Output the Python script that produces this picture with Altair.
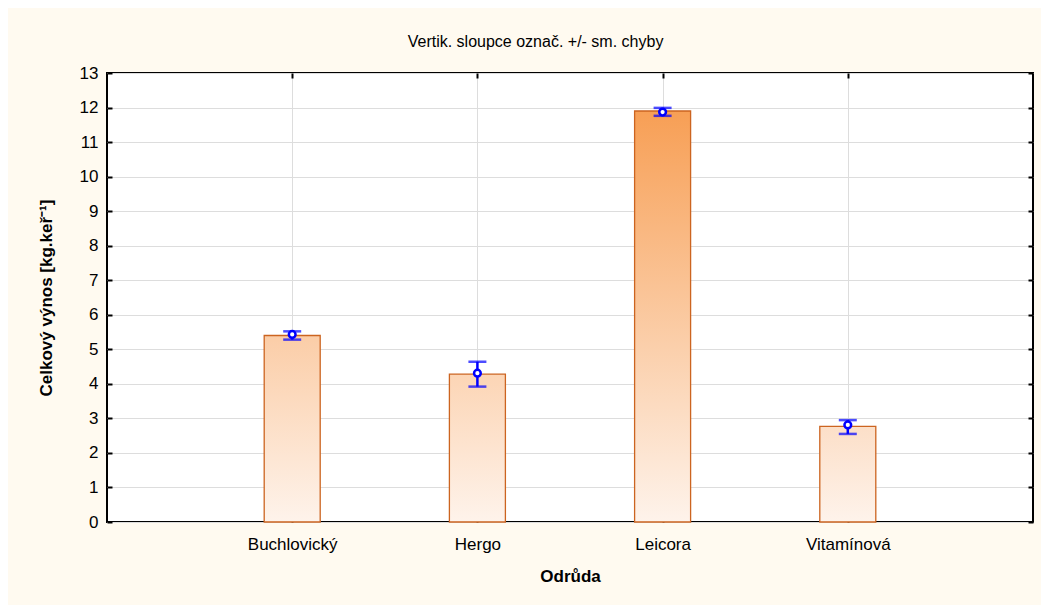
import altair as alt
import pandas as pd

# ---- data ----
categories = ["Buchlovický", "Hergo", "Leicora", "Vitamínová"]
bar_values = [5.40, 4.28, 11.90, 2.77]
means = [5.43, 4.31, 11.87, 2.81]
err_low = [5.28, 3.92, 11.76, 2.55]
err_high = [5.52, 4.64, 11.99, 2.95]

y_ticks = list(range(0, 14))

FONT = "Liberation Sans"
LIGHT = (254, 243, 235)
DARK = (247, 158, 84)
GRAD_MAX = 12.0


def shade(v):
    t = max(0.0, min(1.0, v / GRAD_MAX))
    r, g, b = (round(LIGHT[i] + (DARK[i] - LIGHT[i]) * t) for i in range(3))
    return f"#{r:02x}{g:02x}{b:02x}"


df = pd.DataFrame({
    "Odrůda": categories,
    "vynos": bar_values,
    "mean": means,
    "lo": err_low,
    "hi": err_high,
})

x_scale = alt.Scale(type="point", padding=1, domain=categories)
y_scale = alt.Scale(domain=[0, 13], nice=False, zero=True)

main_x_axis = alt.Axis(
    orient="bottom", offset=-5, tickSize=5, tickColor="black", tickWidth=2,
    domain=False, grid=True, gridColor="#dddddd", gridWidth=1,
    labelFont=FONT, labelFontSize=17, labelColor="black", labelPadding=14,
    labelAngle=0, title="Odrůda", titleFont=FONT, titleFontSize=17,
    titleFontWeight="bold", titleColor="black", titlePadding=16,
)
main_y_axis = alt.Axis(
    orient="left", offset=-5, tickSize=5, tickColor="black", tickWidth=2,
    domain=False, grid=True, gridColor="#dddddd", gridWidth=1, values=y_ticks,
    labelFont=FONT, labelFontSize=17, labelColor="black", labelPadding=9,
    title="Celkový výnos [kg.keř⁻¹]", titleFont=FONT, titleFontSize=17,
    titleFontWeight="bold", titleColor="black", titlePadding=24,
)
top_axis = alt.Axis(
    orient="top", offset=-5, tickSize=5, tickColor="black", tickWidth=2,
    domain=False, grid=False, labels=False, title=None,
)
right_axis = alt.Axis(
    orient="right", offset=-5, tickSize=5, tickColor="black", tickWidth=2,
    domain=False, grid=False, labels=False, title=None, values=y_ticks,
)

layers = []
for i, cat in enumerate(categories):
    grad = {
        "gradient": "linear", "x1": 0, "y1": 0, "x2": 0, "y2": 1,
        "stops": [
            {"offset": 0, "color": shade(bar_values[i])},
            {"offset": 1, "color": shade(0)},
        ],
    }
    bar = alt.Chart(df).transform_filter(
        alt.datum["Odrůda"] == cat
    ).mark_bar(
        color=grad, stroke="#cc6420", strokeWidth=1.3, size=56
    ).encode(
        x=alt.X("Odrůda:N", scale=x_scale, axis=main_x_axis if i == 0 else None),
        y=alt.Y("vynos:Q", scale=y_scale, axis=main_y_axis if i == 0 else None),
    )
    layers.append(bar)

rules = alt.Chart(df).mark_rule(color="#0000ff", strokeWidth=2.5).encode(
    x=alt.X("Odrůda:N", scale=x_scale, axis=top_axis),
    y=alt.Y("lo:Q", scale=y_scale, axis=right_axis),
    y2="hi:Q",
)
cap_lo = alt.Chart(df).mark_tick(color="#0000ff", size=18, thickness=2.5, orient="horizontal").encode(
    x=alt.X("Odrůda:N", scale=x_scale, axis=None),
    y=alt.Y("lo:Q", scale=y_scale, axis=None),
)
cap_hi = alt.Chart(df).mark_tick(color="#0000ff", size=18, thickness=2.5, orient="horizontal").encode(
    x=alt.X("Odrůda:N", scale=x_scale, axis=None),
    y=alt.Y("hi:Q", scale=y_scale, axis=None),
)
points = alt.Chart(df).mark_point(
    shape="circle", filled=False, fill="white", fillOpacity=1,
    stroke="#0000ff", strokeWidth=2.5, size=45, opacity=1
).encode(
    x=alt.X("Odrůda:N", scale=x_scale, axis=None),
    y=alt.Y("mean:Q", scale=y_scale, axis=None),
)

chart = alt.layer(*layers, rules, cap_lo, cap_hi, points).resolve_axis(
    x="independent", y="independent"
).properties(
    width=926,
    height=449,
    padding={"left": 99, "top": 65, "right": 8, "bottom": 83},
    autosize=alt.AutoSizeParams(type="none"),
    background="#fffaf0",
    title=alt.TitleParams(
        "Vertik. sloupce označ. +/- sm. chyby", font=FONT, fontSize=16,
        fontWeight="normal", color="black", anchor="middle", frame="bounds",
        offset=14,
    ),
).configure_view(
    stroke="black", strokeWidth=2, fill="white"
)

chart.save("out.html", embed_options={"renderer": "svg", "actions": False})
